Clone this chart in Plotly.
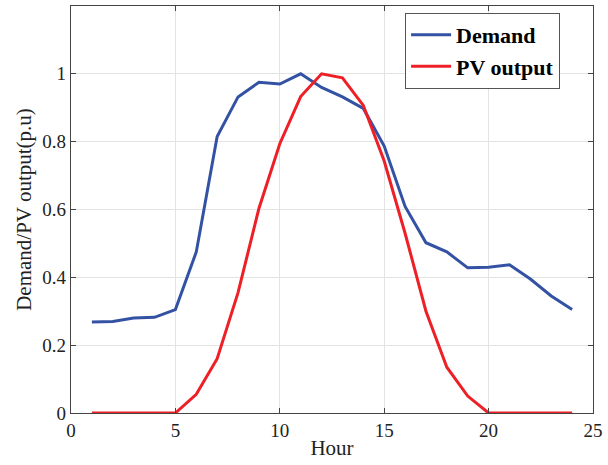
import plotly.graph_objects as go

hours = list(range(1, 25))
demand = [0.268, 0.270, 0.280, 0.282, 0.305, 0.475, 0.815, 0.932, 0.975, 0.970,
          1.000, 0.960, 0.932, 0.898, 0.787, 0.609, 0.502, 0.475, 0.428, 0.430,
          0.437, 0.395, 0.345, 0.305]
pv = [0, 0, 0, 0, 0, 0.055, 0.160, 0.355, 0.603, 0.794,
      0.933, 1.000, 0.988, 0.907, 0.743, 0.530, 0.300, 0.135, 0.050, 0,
      0, 0, 0, 0]

x_ticks = [0, 5, 10, 15, 20, 25]
y_ticks = [0, 0.2, 0.4, 0.6, 0.8, 1]
y_tick_labels = ["0", "0.2", "0.4", "0.6", "0.8", "1"]

font = "Liberation Serif, Times New Roman, serif"

fig = go.Figure()
fig.add_trace(go.Scatter(x=hours, y=demand, mode="lines", name="Demand",
                         line=dict(color="#3352A3", width=3)))
fig.add_trace(go.Scatter(x=hours, y=pv, mode="lines", name="PV output",
                         line=dict(color="#EE2027", width=3)))

axis_common = dict(showline=True, linecolor="#444444", linewidth=1.2, mirror="ticks",
                   ticks="inside", ticklen=5, tickcolor="#444444",
                   showgrid=True, gridcolor="#E3E3E3", gridwidth=1, zeroline=False,
                   ticklabeloverflow="allow",
                   tickfont=dict(family=font, size=19, color="#222222"))

fig.update_layout(
    width=608, height=465,
    margin=dict(l=71, r=9, t=5, b=52),
    paper_bgcolor="white", plot_bgcolor="white",
    font=dict(family=font, color="#222222"),
    xaxis=dict(range=[0, 25], tickvals=x_ticks,
               title=dict(text="Hour", font=dict(family=font, size=21), standoff=0),
               **axis_common),
    yaxis=dict(range=[0, 1.2], tickvals=y_ticks, ticktext=y_tick_labels,
               title=dict(text="Demand/PV output(p.u)", font=dict(family=font, size=21), standoff=4),
               **axis_common),
    legend=dict(x=0.64, y=0.983, xanchor="left", yanchor="top",
                bgcolor="white", bordercolor="#555555", borderwidth=1,
                font=dict(family=font, size=22, color="black", weight="bold"),
                tracegroupgap=0, itemwidth=40),
    showlegend=True,
)

fig.write_html("out.html")
